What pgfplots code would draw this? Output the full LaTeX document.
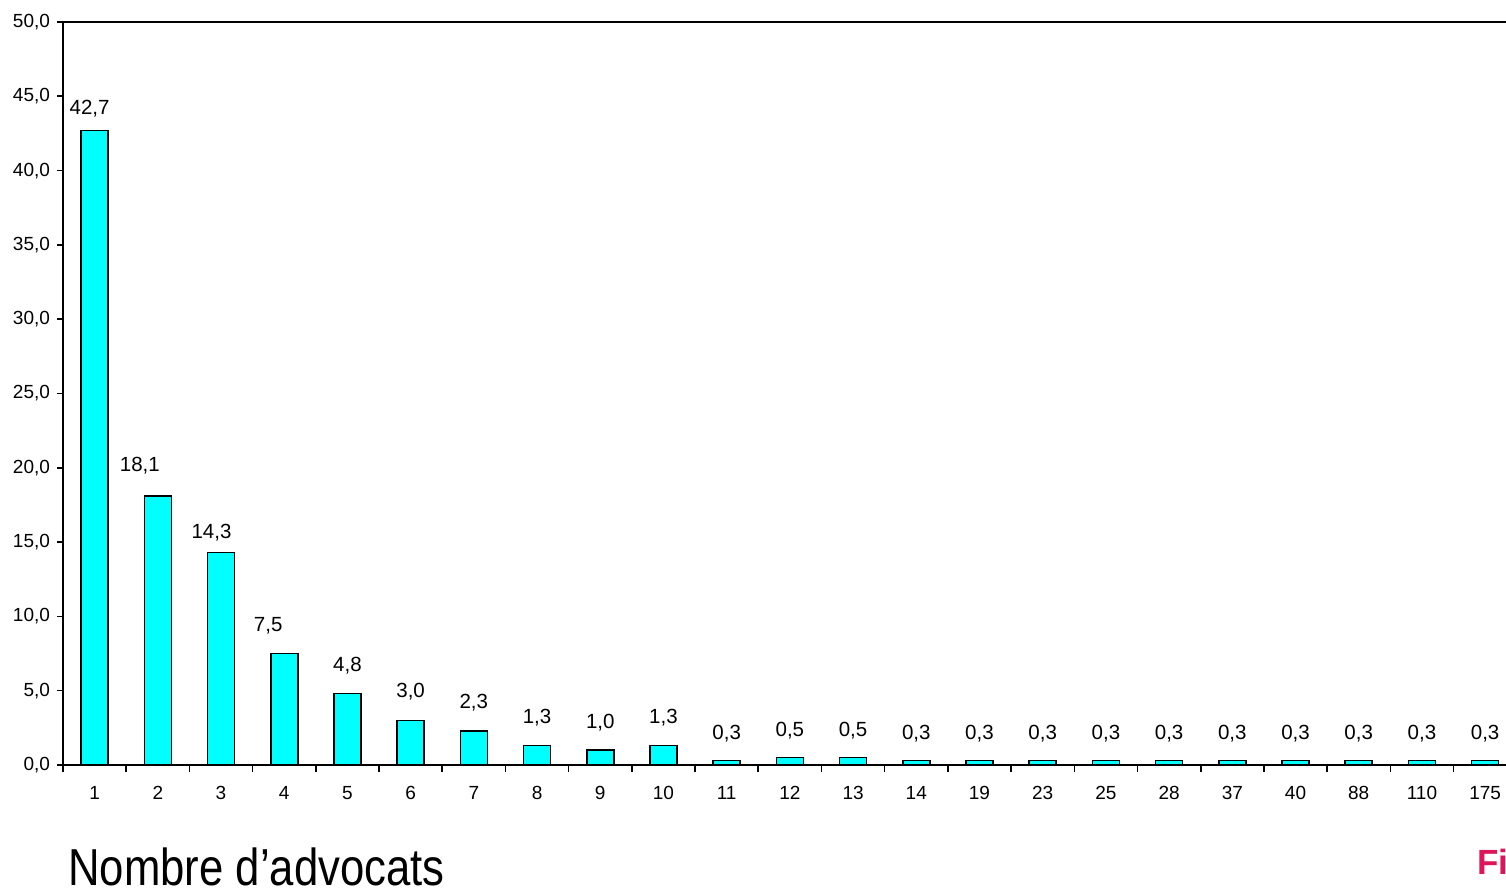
\documentclass[border=0pt]{standalone}
\usepackage{fontspec}
\setmainfont{Liberation Sans}
\newfontfamily\narrowfont[FakeStretch=0.84]{Liberation Sans}
\usepackage{pgfplots}
\usepackage{pgfplotstable}
\pgfplotsset{compat=1.18}
\definecolor{barcyan}{RGB}{0,255,255}
\definecolor{figred}{RGB}{222,22,88}
\pgfplotstableread{
x y dx dy
0 42.7 -2.5 8
1 18.1 -9 12.5
2 14.3 -4.75 7
3 7.5 -8 11
4 4.8 0 11
5 3.0 0 11.25
6 2.3 0 11.25
7 1.3 0 11
8 1.0 0 11
9 1.3 0 11
10 0.3 0 10.5
11 0.5 0 10.5
12 0.5 0 10.5
13 0.3 0 10.5
14 0.3 0 10.5
15 0.3 0 10.5
16 0.3 0 10.5
17 0.3 0 10.5
18 0.3 0 10.5
19 0.3 0 10.5
20 0.3 0 10.5
21 0.3 0 10.5
22 0.3 0 10.5
}\data
\begin{document}
\begin{tikzpicture}
\useasboundingbox (0,0) rectangle (753pt,447pt);
\begin{axis}[
  at={(31.5pt,64.5pt)}, anchor=south west,
  scale only axis, width=721.5pt, height=371.5pt,
  xmin=-0.5, xmax=22.33, ymin=0, ymax=50,
  axis x line*=bottom, axis y line*=left,
  axis line style={line width=1pt, black},
  clip=false,
  ytick={0,5,...,50},
  xtick={0,...,22},
  xticklabels={1,2,3,4,5,6,7,8,9,10,11,12,13,14,19,23,25,28,37,40,88,110,175},
  minor xtick={-0.5,0.5,...,21.5},
  major x tick style={draw=none},
  minor x tick style={black, line width=0.8pt},
  y tick style={black, line width=0.8pt},
  tick align=outside,
  major tick length=3pt, minor tick length=3.5pt,
  /pgf/number format/.cd, use comma, fixed, fixed zerofill, precision=1, assume math mode=true,
  /pgfplots/.cd,
  tick label style={font=\fontsize{9.5pt}{11pt}\selectfont},
  xticklabel style={yshift=-4pt},
  ybar, bar width=13.5pt,
]
\addplot[fill=barcyan, draw=black, line width=0.8pt,
  visualization depends on={\thisrow{dx} \as \dx},
  visualization depends on={\thisrow{dy} \as \dy},
  nodes near coords,
  every node near coord/.append style={font=\fontsize{10.25pt}{12pt}\selectfont, anchor=base, inner sep=0pt, xshift=\dx pt, yshift=\dy pt},
] table[x=x, y=y] {\data};
\draw[line width=1pt, black] (rel axis cs:0,1) -- (rel axis cs:1,1);
\end{axis}
\node[anchor=base west, inner sep=0pt, font=\narrowfont\fontsize{26pt}{30pt}\selectfont] at (34pt,4pt) {Nombre d’advocats};
\node[anchor=base west, inner sep=0pt, text=figred, font=\bfseries\fontsize{17.5pt}{20pt}\selectfont] at (738.5pt,9.5pt) {Fi};
\end{tikzpicture}
\end{document}
